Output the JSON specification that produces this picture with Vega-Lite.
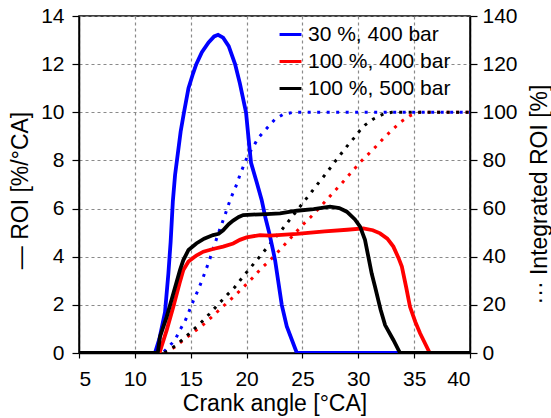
{
  "$schema": "https://vega.github.io/schema/vega-lite/v6.json",
  "width": 391,
  "height": 337,
  "autosize": "none",
  "padding": {"left": 79, "top": 16, "right": 81, "bottom": 65},
  "background": "white",
  "config": {
    "font": "Liberation Sans",
    "view": {"stroke": "black", "strokeWidth": 1.5},
    "axis": {
      "labelFontSize": 21,
      "titleFontSize": 23,
      "titleFontWeight": "normal",
      "labelColor": "black",
      "titleColor": "black",
      "domainColor": "black",
      "domainWidth": 1.5,
      "tickColor": "black",
      "tickWidth": 1.2,
      "gridColor": "#8a8a8a",
      "gridDash": [3, 3],
      "gridWidth": 1.2
    },
    "legend": {
      "labelFontSize": 21,
      "labelColor": "black",
      "symbolType": "stroke",
      "symbolSize": 480,
      "symbolStrokeWidth": 3,
      "symbolDash": [],
      "rowPadding": 4,
      "labelOffset": 5,
      "padding": 0
    }
  },
  "datasets": {
    "roi": [
      {"x": 5, "y": 0, "s": "30 %, 400 bar"},
      {"x": 11.8, "y": 0, "s": "30 %, 400 bar"},
      {"x": 12.2, "y": 0.6, "s": "30 %, 400 bar"},
      {"x": 12.7, "y": 1.7, "s": "30 %, 400 bar"},
      {"x": 13.0, "y": 3.3, "s": "30 %, 400 bar"},
      {"x": 13.2, "y": 4.6, "s": "30 %, 400 bar"},
      {"x": 13.4, "y": 6.3, "s": "30 %, 400 bar"},
      {"x": 13.6, "y": 7.4, "s": "30 %, 400 bar"},
      {"x": 13.85, "y": 8.3, "s": "30 %, 400 bar"},
      {"x": 14.1, "y": 9.2, "s": "30 %, 400 bar"},
      {"x": 14.4, "y": 10.0, "s": "30 %, 400 bar"},
      {"x": 14.8, "y": 11.0, "s": "30 %, 400 bar"},
      {"x": 15.2, "y": 11.6, "s": "30 %, 400 bar"},
      {"x": 15.5, "y": 12.0, "s": "30 %, 400 bar"},
      {"x": 16.0, "y": 12.5, "s": "30 %, 400 bar"},
      {"x": 16.6, "y": 12.9, "s": "30 %, 400 bar"},
      {"x": 17.1, "y": 13.15, "s": "30 %, 400 bar"},
      {"x": 17.45, "y": 13.22, "s": "30 %, 400 bar"},
      {"x": 17.9, "y": 13.1, "s": "30 %, 400 bar"},
      {"x": 18.4, "y": 12.75, "s": "30 %, 400 bar"},
      {"x": 18.97, "y": 12.0, "s": "30 %, 400 bar"},
      {"x": 19.4, "y": 11.2, "s": "30 %, 400 bar"},
      {"x": 19.95, "y": 10.0, "s": "30 %, 400 bar"},
      {"x": 20.25, "y": 8.57, "s": "30 %, 400 bar"},
      {"x": 20.4, "y": 7.9, "s": "30 %, 400 bar"},
      {"x": 20.9, "y": 7.1, "s": "30 %, 400 bar"},
      {"x": 21.35, "y": 6.36, "s": "30 %, 400 bar"},
      {"x": 21.7, "y": 5.6, "s": "30 %, 400 bar"},
      {"x": 22.04, "y": 4.97, "s": "30 %, 400 bar"},
      {"x": 22.4, "y": 4.2, "s": "30 %, 400 bar"},
      {"x": 22.55, "y": 3.86, "s": "30 %, 400 bar"},
      {"x": 23.15, "y": 2.0, "s": "30 %, 400 bar"},
      {"x": 23.6, "y": 1.1, "s": "30 %, 400 bar"},
      {"x": 24.5, "y": 0, "s": "30 %, 400 bar"},
      {"x": 40, "y": 0, "s": "30 %, 400 bar"},
      {"x": 5, "y": 0, "s": "100 %, 400 bar"},
      {"x": 12.2, "y": 0, "s": "100 %, 400 bar"},
      {"x": 12.85, "y": 0.95, "s": "100 %, 400 bar"},
      {"x": 13.45, "y": 1.93, "s": "100 %, 400 bar"},
      {"x": 14.0, "y": 2.9, "s": "100 %, 400 bar"},
      {"x": 14.34, "y": 3.45, "s": "100 %, 400 bar"},
      {"x": 14.8, "y": 3.8, "s": "100 %, 400 bar"},
      {"x": 15.5, "y": 4.05, "s": "100 %, 400 bar"},
      {"x": 16.13, "y": 4.21, "s": "100 %, 400 bar"},
      {"x": 17.0, "y": 4.32, "s": "100 %, 400 bar"},
      {"x": 17.9, "y": 4.42, "s": "100 %, 400 bar"},
      {"x": 18.8, "y": 4.55, "s": "100 %, 400 bar"},
      {"x": 19.4, "y": 4.7, "s": "100 %, 400 bar"},
      {"x": 20.0, "y": 4.8, "s": "100 %, 400 bar"},
      {"x": 21.2, "y": 4.9, "s": "100 %, 400 bar"},
      {"x": 22.1, "y": 4.88, "s": "100 %, 400 bar"},
      {"x": 24.5, "y": 4.95, "s": "100 %, 400 bar"},
      {"x": 27.0, "y": 5.05, "s": "100 %, 400 bar"},
      {"x": 29.0, "y": 5.12, "s": "100 %, 400 bar"},
      {"x": 30.45, "y": 5.18, "s": "100 %, 400 bar"},
      {"x": 31.3, "y": 5.1, "s": "100 %, 400 bar"},
      {"x": 31.95, "y": 4.97, "s": "100 %, 400 bar"},
      {"x": 32.6, "y": 4.75, "s": "100 %, 400 bar"},
      {"x": 33.14, "y": 4.42, "s": "100 %, 400 bar"},
      {"x": 33.6, "y": 3.95, "s": "100 %, 400 bar"},
      {"x": 33.9, "y": 3.59, "s": "100 %, 400 bar"},
      {"x": 34.3, "y": 2.7, "s": "100 %, 400 bar"},
      {"x": 34.63, "y": 1.92, "s": "100 %, 400 bar"},
      {"x": 35.1, "y": 1.3, "s": "100 %, 400 bar"},
      {"x": 35.53, "y": 0.82, "s": "100 %, 400 bar"},
      {"x": 36.4, "y": 0, "s": "100 %, 400 bar"},
      {"x": 40, "y": 0, "s": "100 %, 400 bar"},
      {"x": 5, "y": 0, "s": "100 %, 500 bar"},
      {"x": 12.05, "y": 0, "s": "100 %, 500 bar"},
      {"x": 12.25, "y": 0.68, "s": "100 %, 500 bar"},
      {"x": 12.85, "y": 1.5, "s": "100 %, 500 bar"},
      {"x": 13.45, "y": 2.48, "s": "100 %, 500 bar"},
      {"x": 14.04, "y": 3.45, "s": "100 %, 500 bar"},
      {"x": 14.34, "y": 3.86, "s": "100 %, 500 bar"},
      {"x": 14.8, "y": 4.28, "s": "100 %, 500 bar"},
      {"x": 15.5, "y": 4.55, "s": "100 %, 500 bar"},
      {"x": 16.2, "y": 4.75, "s": "100 %, 500 bar"},
      {"x": 17.0, "y": 4.9, "s": "100 %, 500 bar"},
      {"x": 17.5, "y": 4.95, "s": "100 %, 500 bar"},
      {"x": 17.9, "y": 5.1, "s": "100 %, 500 bar"},
      {"x": 18.4, "y": 5.35, "s": "100 %, 500 bar"},
      {"x": 18.8, "y": 5.5, "s": "100 %, 500 bar"},
      {"x": 19.3, "y": 5.65, "s": "100 %, 500 bar"},
      {"x": 19.7, "y": 5.73, "s": "100 %, 500 bar"},
      {"x": 20.5, "y": 5.75, "s": "100 %, 500 bar"},
      {"x": 21.8, "y": 5.77, "s": "100 %, 500 bar"},
      {"x": 23.0, "y": 5.8, "s": "100 %, 500 bar"},
      {"x": 24.5, "y": 5.91, "s": "100 %, 500 bar"},
      {"x": 26.0, "y": 5.98, "s": "100 %, 500 bar"},
      {"x": 27.47, "y": 6.08, "s": "100 %, 500 bar"},
      {"x": 28.3, "y": 6.02, "s": "100 %, 500 bar"},
      {"x": 28.97, "y": 5.87, "s": "100 %, 500 bar"},
      {"x": 29.7, "y": 5.55, "s": "100 %, 500 bar"},
      {"x": 30.16, "y": 5.25, "s": "100 %, 500 bar"},
      {"x": 30.6, "y": 4.7, "s": "100 %, 500 bar"},
      {"x": 30.9, "y": 4.0, "s": "100 %, 500 bar"},
      {"x": 31.2, "y": 3.3, "s": "100 %, 500 bar"},
      {"x": 31.5, "y": 2.75, "s": "100 %, 500 bar"},
      {"x": 32.0, "y": 1.8, "s": "100 %, 500 bar"},
      {"x": 32.4, "y": 1.16, "s": "100 %, 500 bar"},
      {"x": 33.14, "y": 0.54, "s": "100 %, 500 bar"},
      {"x": 33.74, "y": 0, "s": "100 %, 500 bar"},
      {"x": 40, "y": 0, "s": "100 %, 500 bar"}
    ],
    "int": [
      {"x": 5, "y": 0, "s": "30 %, 400 bar"},
      {"x": 12.5, "y": 0, "s": "30 %, 400 bar"},
      {"x": 12.7, "y": 1, "s": "30 %, 400 bar"},
      {"x": 13.6, "y": 5.4, "s": "30 %, 400 bar"},
      {"x": 14.04, "y": 9.6, "s": "30 %, 400 bar"},
      {"x": 14.5, "y": 13.3, "s": "30 %, 400 bar"},
      {"x": 14.87, "y": 17.5, "s": "30 %, 400 bar"},
      {"x": 15.23, "y": 21.6, "s": "30 %, 400 bar"},
      {"x": 15.6, "y": 25.5, "s": "30 %, 400 bar"},
      {"x": 15.93, "y": 29.2, "s": "30 %, 400 bar"},
      {"x": 16.58, "y": 37.3, "s": "30 %, 400 bar"},
      {"x": 16.88, "y": 41.4, "s": "30 %, 400 bar"},
      {"x": 17.47, "y": 49.7, "s": "30 %, 400 bar"},
      {"x": 18.07, "y": 57.3, "s": "30 %, 400 bar"},
      {"x": 18.37, "y": 61.5, "s": "30 %, 400 bar"},
      {"x": 18.67, "y": 65.2, "s": "30 %, 400 bar"},
      {"x": 19.06, "y": 69.4, "s": "30 %, 400 bar"},
      {"x": 19.35, "y": 73.2, "s": "30 %, 400 bar"},
      {"x": 19.7, "y": 77.4, "s": "30 %, 400 bar"},
      {"x": 20.07, "y": 81.6, "s": "30 %, 400 bar"},
      {"x": 20.6, "y": 85.7, "s": "30 %, 400 bar"},
      {"x": 21.05, "y": 89.4, "s": "30 %, 400 bar"},
      {"x": 21.8, "y": 93.3, "s": "30 %, 400 bar"},
      {"x": 22.55, "y": 97.1, "s": "30 %, 400 bar"},
      {"x": 23.3, "y": 99.2, "s": "30 %, 400 bar"},
      {"x": 24.2, "y": 100, "s": "30 %, 400 bar"},
      {"x": 40, "y": 100, "s": "30 %, 400 bar"},
      {"x": 5, "y": 0, "s": "100 %, 400 bar"},
      {"x": 12.8, "y": 0, "s": "100 %, 400 bar"},
      {"x": 13.0, "y": 1, "s": "100 %, 400 bar"},
      {"x": 13.6, "y": 2.5, "s": "100 %, 400 bar"},
      {"x": 14.43, "y": 5.7, "s": "100 %, 400 bar"},
      {"x": 15.23, "y": 8.5, "s": "100 %, 400 bar"},
      {"x": 16.07, "y": 11.6, "s": "100 %, 400 bar"},
      {"x": 16.82, "y": 14.7, "s": "100 %, 400 bar"},
      {"x": 17.56, "y": 17.9, "s": "100 %, 400 bar"},
      {"x": 18.3, "y": 21.1, "s": "100 %, 400 bar"},
      {"x": 19.1, "y": 24.5, "s": "100 %, 400 bar"},
      {"x": 19.86, "y": 28, "s": "100 %, 400 bar"},
      {"x": 20.6, "y": 31.5, "s": "100 %, 400 bar"},
      {"x": 21.26, "y": 34.9, "s": "100 %, 400 bar"},
      {"x": 21.95, "y": 37.9, "s": "100 %, 400 bar"},
      {"x": 22.7, "y": 41.4, "s": "100 %, 400 bar"},
      {"x": 23.44, "y": 45.2, "s": "100 %, 400 bar"},
      {"x": 24.93, "y": 52.8, "s": "100 %, 400 bar"},
      {"x": 25.68, "y": 56.2, "s": "100 %, 400 bar"},
      {"x": 26.42, "y": 59.8, "s": "100 %, 400 bar"},
      {"x": 27.17, "y": 63.6, "s": "100 %, 400 bar"},
      {"x": 27.9, "y": 67.4, "s": "100 %, 400 bar"},
      {"x": 28.66, "y": 71.2, "s": "100 %, 400 bar"},
      {"x": 29.35, "y": 74.9, "s": "100 %, 400 bar"},
      {"x": 30.16, "y": 79.2, "s": "100 %, 400 bar"},
      {"x": 30.9, "y": 82.6, "s": "100 %, 400 bar"},
      {"x": 31.6, "y": 85.9, "s": "100 %, 400 bar"},
      {"x": 32.3, "y": 89.4, "s": "100 %, 400 bar"},
      {"x": 33.08, "y": 92.9, "s": "100 %, 400 bar"},
      {"x": 33.83, "y": 96.1, "s": "100 %, 400 bar"},
      {"x": 34.63, "y": 98.6, "s": "100 %, 400 bar"},
      {"x": 35.5, "y": 100, "s": "100 %, 400 bar"},
      {"x": 40, "y": 100, "s": "100 %, 400 bar"},
      {"x": 5, "y": 0, "s": "100 %, 500 bar"},
      {"x": 12.6, "y": 0, "s": "100 %, 500 bar"},
      {"x": 13.0, "y": 1, "s": "100 %, 500 bar"},
      {"x": 13.6, "y": 2.9, "s": "100 %, 500 bar"},
      {"x": 14.4, "y": 6.1, "s": "100 %, 500 bar"},
      {"x": 15.15, "y": 9.3, "s": "100 %, 500 bar"},
      {"x": 15.93, "y": 12.7, "s": "100 %, 500 bar"},
      {"x": 16.67, "y": 16.2, "s": "100 %, 500 bar"},
      {"x": 17.4, "y": 19.9, "s": "100 %, 500 bar"},
      {"x": 18.16, "y": 23.7, "s": "100 %, 500 bar"},
      {"x": 18.9, "y": 27.1, "s": "100 %, 500 bar"},
      {"x": 19.56, "y": 31, "s": "100 %, 500 bar"},
      {"x": 20.3, "y": 35.2, "s": "100 %, 500 bar"},
      {"x": 21.05, "y": 39.3, "s": "100 %, 500 bar"},
      {"x": 21.7, "y": 43, "s": "100 %, 500 bar"},
      {"x": 22.4, "y": 47, "s": "100 %, 500 bar"},
      {"x": 23.14, "y": 51.1, "s": "100 %, 500 bar"},
      {"x": 23.8, "y": 55, "s": "100 %, 500 bar"},
      {"x": 25.14, "y": 62.9, "s": "100 %, 500 bar"},
      {"x": 25.83, "y": 67, "s": "100 %, 500 bar"},
      {"x": 26.5, "y": 71, "s": "100 %, 500 bar"},
      {"x": 27.17, "y": 74.9, "s": "100 %, 500 bar"},
      {"x": 27.83, "y": 79, "s": "100 %, 500 bar"},
      {"x": 28.5, "y": 83, "s": "100 %, 500 bar"},
      {"x": 29.2, "y": 87.1, "s": "100 %, 500 bar"},
      {"x": 29.86, "y": 90.6, "s": "100 %, 500 bar"},
      {"x": 30.16, "y": 92.6, "s": "100 %, 500 bar"},
      {"x": 30.6, "y": 94.7, "s": "100 %, 500 bar"},
      {"x": 31.35, "y": 97.2, "s": "100 %, 500 bar"},
      {"x": 32.25, "y": 99.3, "s": "100 %, 500 bar"},
      {"x": 33.0, "y": 100, "s": "100 %, 500 bar"},
      {"x": 40, "y": 100, "s": "100 %, 500 bar"}
    ]
  },
  "layer": [
    {
      "data": {"name": "int"},
      "mark": {"type": "line", "strokeWidth": 3, "strokeDash": [3, 6.5], "clip": true},
      "encoding": {
        "x": {"field": "x", "type": "quantitative"},
        "y": {
          "field": "y", "type": "quantitative",
          "scale": {"domain": [0, 140], "nice": false},
          "axis": {
            "orient": "right",
            "title": "··· Integrated ROI [%]",
            "titleAngle": -90,
            "titleBaseline": "top",
            "titleY": 178,
            "values": [0, 20, 40, 60, 80, 100, 120, 140],
            "grid": false,
            "tickSize": 7,
            "labelPadding": 5,
            "titlePadding": 11
          }
        },
        "color": {"field": "s", "type": "nominal",
          "scale": {"domain": ["30 %, 400 bar", "100 %, 400 bar", "100 %, 500 bar"], "range": ["#0000ff", "#ff0000", "#000000"]},
          "legend": {"title": null, "orient": "none", "legendX": 199, "legendY": 6}}
      }
    },
    {
      "data": {"name": "roi"},
      "mark": {"type": "line", "strokeWidth": 3.8, "clip": true},
      "encoding": {
        "x": {
          "field": "x", "type": "quantitative",
          "scale": {"domain": [5, 40], "nice": false},
          "axis": {
            "title": "Crank angle [°CA]",
            "values": [5, 10, 15, 20, 25, 30, 35, 40],
            "grid": true,
            "tickSize": 5,
            "labelPadding": 10,
            "titlePadding": 3
          }
        },
        "y": {
          "field": "y", "type": "quantitative",
          "scale": {"domain": [0, 14], "nice": false},
          "axis": {
            "title": "— ROI [%/°CA]",
            "titleY": 174,
            "values": [0, 2, 4, 6, 8, 10, 12, 14],
            "grid": true,
            "tickSize": 7,
            "labelPadding": 8,
            "titlePadding": 8
          }
        },
        "color": {
          "field": "s", "type": "nominal",
          "scale": {"domain": ["30 %, 400 bar", "100 %, 400 bar", "100 %, 500 bar"], "range": ["#0000ff", "#ff0000", "#000000"]},
          "legend": {"title": null, "orient": "none", "legendX": 199, "legendY": 6}
        }
      }
    }
  ],
  "resolve": {"scale": {"y": "independent"}}
}
